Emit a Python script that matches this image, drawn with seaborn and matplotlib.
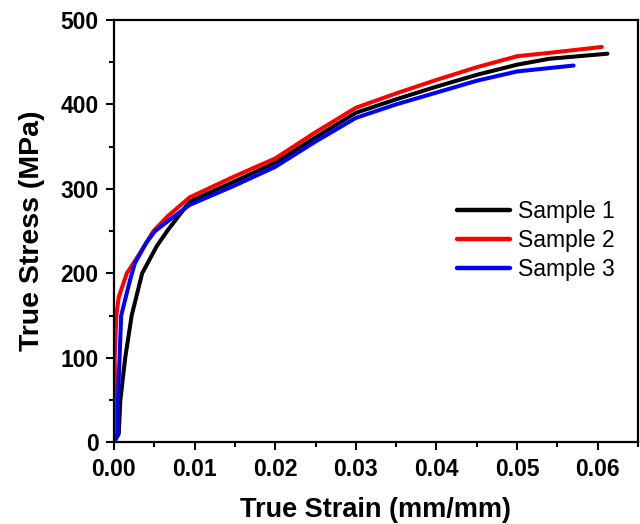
import matplotlib
matplotlib.use("Agg")
import matplotlib.pyplot as plt
from matplotlib.ticker import MultipleLocator
import seaborn as sns
import pandas as pd

# --- data ---
strain_1 = [0.0, 0.0006, 0.0008, 0.0014, 0.0022, 0.0035, 0.0053, 0.0066, 0.0094, 0.015,
            0.020, 0.025, 0.030, 0.035, 0.040, 0.045, 0.050, 0.054, 0.0612]
stress_1 = [0, 10, 50, 100, 150, 200, 232, 250, 285, 309,
            331, 361, 390, 406, 421, 435, 447, 454, 460]

strain_2 = [0.0, 0.0002, 0.0001, 0.0003, 0.0006, 0.0016, 0.0033, 0.0049, 0.0066, 0.0094,
            0.015, 0.020, 0.025, 0.030, 0.035, 0.040, 0.045, 0.050, 0.054, 0.0605]
stress_2 = [0, 40, 100, 150, 172, 200, 225, 250, 267, 290,
            315, 336, 367, 396, 413, 429, 444, 457, 461, 468]

strain_3 = [0.0, 0.0005, 0.0005, 0.0007, 0.0009, 0.0020, 0.0026, 0.0040, 0.0051, 0.0074,
            0.0094, 0.015, 0.020, 0.025, 0.030, 0.035, 0.040, 0.045, 0.050, 0.054, 0.0570]
stress_3 = [0, 10, 50, 100, 150, 192, 212, 236, 250, 267,
            281, 304, 326, 356, 384, 400, 414, 428, 439, 443, 446]

sample_names = ["Sample 1", "Sample 2", "Sample 3"]
colors = ["#000000", "#ff0000", "#0000ff"]

x_ticks = [0.00, 0.01, 0.02, 0.03, 0.04, 0.05, 0.06]
y_ticks = [0, 100, 200, 300, 400, 500]

frames = []
for name, xs, ys in zip(sample_names, [strain_1, strain_2, strain_3],
                        [stress_1, stress_2, stress_3]):
    frames.append(pd.DataFrame({"strain": xs, "stress": ys, "Sample": name}))
df = pd.concat(frames, ignore_index=True)

sns.set_style("ticks", {"text.color": "black", "axes.labelcolor": "black",
                        "xtick.color": "black", "ytick.color": "black",
                        "axes.edgecolor": "black"})
plt.rcParams["font.family"] = ["Liberation Sans", "DejaVu Sans"]

fig = plt.figure(figsize=(6.4, 5.24), dpi=100)
ax = fig.add_axes([0.178, 0.156, 0.819, 0.806])

sns.lineplot(data=df, x="strain", y="stress", hue="Sample", palette=colors,
             sort=False, estimator=None, linewidth=2.9, ax=ax)

ax.set_xlim(0, 0.065)
ax.set_ylim(0, 500)
ax.set_xticks(x_ticks)
ax.set_xticklabels([f"{v:.2f}" for v in x_ticks])
ax.set_yticks(y_ticks)
ax.xaxis.set_minor_locator(MultipleLocator(0.005))
ax.yaxis.set_minor_locator(MultipleLocator(50))
ax.tick_params(which="major", direction="out", length=6, width=1.5, labelsize=16.5, pad=5,
               colors="black")
ax.tick_params(which="minor", direction="out", length=3.5, width=1.5, colors="black")
for lbl in ax.get_xticklabels() + ax.get_yticklabels():
    lbl.set_fontweight("bold")
for sp in ax.spines.values():
    sp.set_visible(True)
    sp.set_linewidth(1.6)
    sp.set_color("black")

ax.set_xlabel("True Strain (mm/mm)", fontsize=19.5, fontweight="bold", labelpad=12,
              color="black")
ax.set_ylabel("True Stress (MPa)", fontsize=20.5, fontweight="bold", labelpad=11,
              color="black")

handles, labels = ax.get_legend_handles_labels()
leg = ax.legend(handles, labels, loc="upper left", bbox_to_anchor=(0.655, 0.573),
                frameon=False, fontsize=16.5, handlelength=2.3, handletextpad=0.35,
                labelspacing=0.25, borderaxespad=0, borderpad=0)
for t in leg.get_texts():
    t.set_color("black")
for h in leg.get_lines():
    h.set_linewidth(3.2)

fig.savefig("out.png", dpi=100)
